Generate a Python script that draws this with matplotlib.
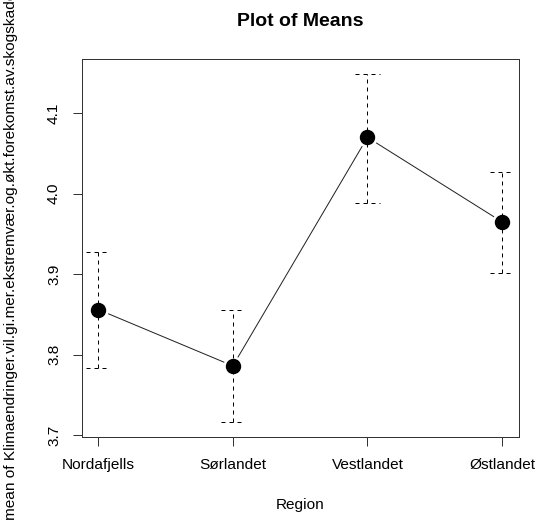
import matplotlib
matplotlib.use("Agg")
import matplotlib.pyplot as plt
import numpy as np

plt.rcParams['font.family'] = ['Liberation Sans', 'DejaVu Sans']
plt.rcParams['lines.scale_dashes'] = False

regions = ["Nordafjells", "Sørlandet", "Vestlandet", "Østlandet"]
means = [3.856, 3.786, 4.070, 3.965]
upper = [3.928, 3.855, 4.149, 4.027]
lower = [3.783, 3.716, 3.988, 3.902]
yticks = [3.7, 3.8, 3.9, 4.0, 4.1]
ylabel = "mean of Klimaendringer.vil.gi.mer.ekstremvær.og.økt.forekomst.av.skogskader"

DPI = 100
fig = plt.figure(figsize=(5.36, 5.25), dpi=DPI)
ax = fig.add_axes([82 / 536, 1 - 436.7 / 525, (518.7 - 82) / 536, (436.7 - 59.3) / 525])

x = np.arange(1, len(regions) + 1)
px = 72 / DPI  # one pixel in points
dash = (0, (4 * px, 4 * px))
label_fs = 11.1
title_fs = 14.0

# connecting line, with white halos so it stops short of each point
ax.plot(x, means, color="#222222", lw=1 * px, zorder=1)
ax.plot(x, means, "o", ms=19 * px, mfc="white", mec="white", zorder=2)

# dashed confidence bars with dashed caps
cap = 0.09
ax.vlines(x, lower, upper, colors="black", lw=1 * px, linestyles=[dash], zorder=3)
ax.hlines(upper, x - cap, x + cap, colors="black", lw=1 * px, linestyles=[dash], zorder=3)
ax.hlines(lower, x - cap, x + cap, colors="black", lw=1 * px, linestyles=[dash], zorder=3)

ax.plot(x, means, "o", ms=14 * px, mfc="black", mec="black", zorder=4)

ax.set_xlim(0.879, 4.124)
ax.set_ylim(3.698, 4.167)
ax.set_xticks(x)
ax.set_xticklabels(regions)
ax.set_yticks(yticks)
ax.set_yticklabels([f"{v:.1f}" for v in yticks], rotation=90, va="center")

for s in ax.spines.values():
    s.set_color("#333333")
    s.set_linewidth(1 * px)
ax.tick_params(axis="both", direction="out", length=9 * px, width=1 * px,
               color="#333333", labelsize=label_fs)
ax.tick_params(axis="x", pad=12 * px)
ax.tick_params(axis="y", pad=12 * px)

fig.text(0.5 * (82 + 518.7) / 536, 1 - 21.5 / 525, "Plot of Means", ha="center", va="center",
         fontsize=title_fs, fontweight="bold")
fig.text(0.5 * (82 + 518.7) / 536, 1 - 505 / 525, "Region", ha="center", va="center",
         fontsize=label_fs)
fig.text(11 / 536, 1 - 253 / 525, ylabel, ha="center", va="center",
         rotation=90, fontsize=label_fs)

fig.savefig("out.png", dpi=DPI)
